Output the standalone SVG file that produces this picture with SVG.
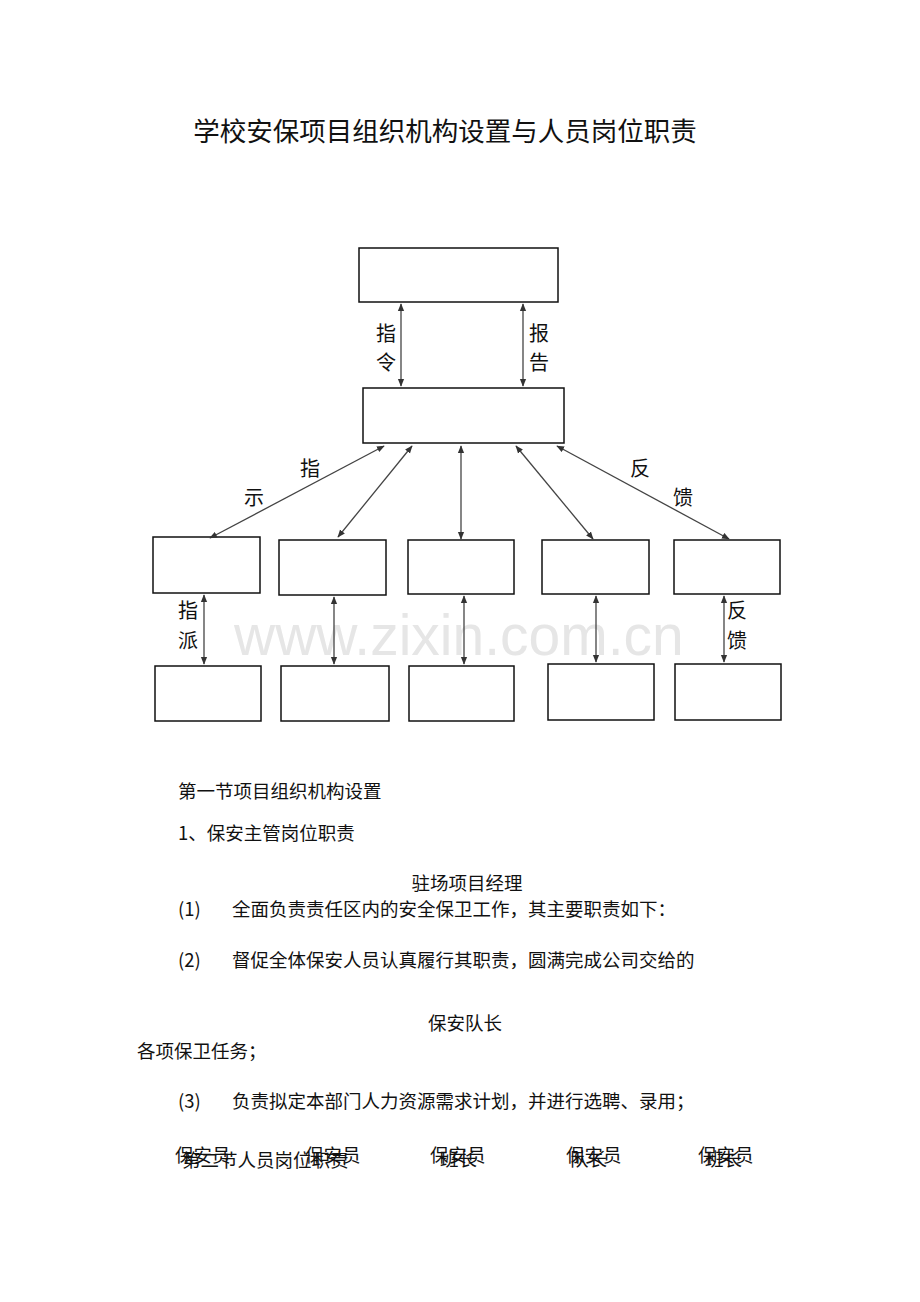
<svg xmlns="http://www.w3.org/2000/svg" width="920" height="1302" viewBox="0 0 920 1302">
<defs>
<marker id="a" viewBox="0 0 10 10" refX="9" refY="5" markerWidth="6" markerHeight="6" orient="auto-start-reverse"><path d="M0,1 L10,5 L0,9 z" fill="#333"/></marker>
<style>
.b{fill:#fff;stroke:#111;stroke-width:1.5}
.c{stroke:#444;stroke-width:1.3;fill:none;marker-start:url(#a);marker-end:url(#a)}
.l{font-family:"Noto Sans CJK SC",sans-serif;font-size:20px;fill:#111}
.t{font-family:"Noto Sans CJK SC",serif;font-size:18.5px;fill:#111}
.w{font-family:"Liberation Sans",sans-serif;font-size:57px;fill:#e6e6e6}
</style>
</defs>
<rect width="920" height="1302" fill="#fff"/>
<text x="445" y="141" text-anchor="middle" font-family="Noto Sans CJK SC,serif" font-size="26.5" fill="#111">学校安保项目组织机构设置与人员岗位职责</text>
<text class="w" x="234" y="655">www.zixin.com.cn</text>
<g id="n0"><rect class="b" x="359" y="248" width="199" height="54"/></g>
<g id="n1"><rect class="b" x="363" y="388" width="201" height="55"/></g>
<g id="n2"><rect class="b" x="153" y="537" width="107" height="56"/></g>
<g id="n3"><rect class="b" x="279" y="540" width="107" height="55"/></g>
<g id="n4"><rect class="b" x="408" y="540" width="106" height="54"/></g>
<g id="n5"><rect class="b" x="542" y="540" width="107" height="54"/></g>
<g id="n6"><rect class="b" x="674" y="540" width="106" height="54"/></g>
<g id="n7"><rect class="b" x="155" y="666" width="106" height="55"/></g>
<g id="n8"><rect class="b" x="281" y="666" width="108" height="55"/></g>
<g id="n9"><rect class="b" x="409" y="666" width="105" height="55"/></g>
<g id="n10"><rect class="b" x="548" y="664" width="106" height="56"/></g>
<g id="n11"><rect class="b" x="675" y="664" width="106" height="56"/></g>
<g id="edges">
<line class="c" x1="401" y1="304" x2="401" y2="386"/>
<line class="c" x1="523" y1="304" x2="523" y2="386"/>
<line class="c" x1="384" y1="446" x2="210" y2="538"/>
<line class="c" x1="412" y1="446" x2="338" y2="537"/>
<line class="c" x1="461" y1="446" x2="461" y2="539"/>
<line class="c" x1="516" y1="446" x2="593" y2="539"/>
<line class="c" x1="557" y1="446" x2="729" y2="539"/>
<line class="c" x1="204" y1="595" x2="204" y2="664"/>
<line class="c" x1="334" y1="597" x2="334" y2="664"/>
<line class="c" x1="464" y1="596" x2="464" y2="664"/>
<line class="c" x1="596" y1="596" x2="596" y2="662"/>
<line class="c" x1="724" y1="596" x2="724" y2="662"/>
<text class="l" x="376" y="341">指</text><text class="l" x="376" y="370">令</text>
<text class="l" x="529" y="341">报</text><text class="l" x="529" y="370">告</text>
<text class="l" x="300" y="476">指</text><text class="l" x="244" y="505">示</text>
<text class="l" x="630" y="476">反</text><text class="l" x="673" y="505">馈</text>
<text class="l" x="178" y="618">指</text><text class="l" x="178" y="648">派</text>
<text class="l" x="727" y="618">反</text><text class="l" x="727" y="648">馈</text>
</g>
<text class="t" x="178" y="798">第一节项目组织机构设置</text>
<text class="t" x="178" y="840">1、保安主管岗位职责</text>
<text class="t" x="467" y="890" text-anchor="middle">驻场项目经理</text>
<text class="t" x="178" y="916">(1)</text><text class="t" x="232" y="916">全面负责责任区内的安全保卫工作，其主要职责如下：</text>
<text class="t" x="178" y="967">(2)</text><text class="t" x="232" y="967">督促全体保安人员认真履行其职责，圆满完成公司交给的</text>
<text class="t" x="465" y="1030" text-anchor="middle">保安队长</text>
<text class="t" x="137" y="1058">各项保卫任务；</text>
<text class="t" x="178" y="1108">(3)</text><text class="t" x="232" y="1108">负责拟定本部门人力资源需求计划，并进行选聘、录用；</text>
<text class="t" x="182" y="1167">第二节人员岗位职责</text>
<text class="t" x="175" y="1162">保安员</text>
<text class="t" x="305" y="1162">保安员</text>
<text class="t" x="430" y="1162">保安员</text><text class="t" x="440" y="1166">班长</text>
<text class="t" x="566" y="1162">保安员</text><text class="t" x="570" y="1166">队长</text>
<text class="t" x="698" y="1162">保安员</text><text class="t" x="705" y="1166">班长</text>
</svg>
